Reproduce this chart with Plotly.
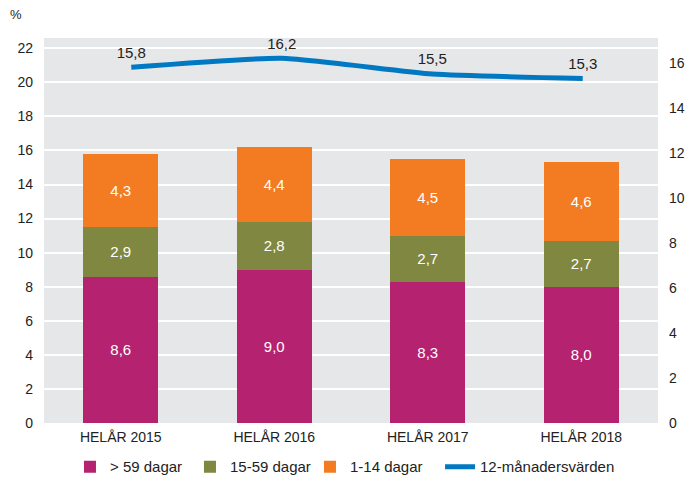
import plotly.graph_objects as go

categories = ["HELÅR 2015", "HELÅR 2016", "HELÅR 2017", "HELÅR 2018"]
over59 = [8.6, 9.0, 8.3, 8.0]
d15_59 = [2.9, 2.8, 2.7, 2.7]
d1_14 = [4.3, 4.4, 4.5, 4.6]
rolling12 = [15.8, 16.2, 15.5, 15.3]

FONT = "Liberation Sans, Arial, sans-serif"

fig = go.Figure()
for name, vals, col in [("> 59 dagar", over59, "#B5226F"),
                        ("15-59 dagar", d15_59, "#7F8741"),
                        ("1-14 dagar", d1_14, "#F37C22")]:
    fig.add_trace(go.Bar(
        x=categories, y=vals, name=name, marker=dict(color=col, line=dict(width=0)),
        texttemplate="%{y:.1f}", textposition="inside", insidetextanchor="middle",
        textfont=dict(color="white", size=15, family=FONT), legend="legend",
    ))

fig.add_trace(go.Scatter(
    x=categories, y=rolling12, name="12-månadersvärden", mode="lines+markers+text",
    line=dict(color="#0078C2", width=5, shape="spline", smoothing=0.5),
    marker=dict(size=8, color="rgba(0,0,0,0)"),
    texttemplate="%{y:.1f}", textposition="top center", cliponaxis=False,
    textfont=dict(color="#222222", size=15, family=FONT),
    xaxis="x2", yaxis="y2", legend="legend2",
))

fig.update_layout(
    width=700, height=479,
    barmode="stack", bargap=0.51,
    separators=", ",
    paper_bgcolor="white", plot_bgcolor="#E6E7E9",
    margin=dict(l=44, r=42, t=38, b=56, autoexpand=False),
    font=dict(family=FONT, size=14, color="#222222"),
    xaxis=dict(showgrid=False, ticks="", tickfont=dict(size=14, color="#222222"),
               ticklabelstandoff=4, automargin=False),
    xaxis2=dict(overlaying="x", type="category", range=[-0.58, 3.5], visible=False, showgrid=False),
    yaxis=dict(range=[0, 22.6], dtick=2, showgrid=True, gridcolor="white", gridwidth=1.5,
               zeroline=False, ticks="", ticklabelstandoff=10, tickfont=dict(size=14), automargin=False),
    yaxis2=dict(range=[0, 17.1], dtick=2, overlaying="y", side="right", showgrid=False,
                zeroline=False, ticks="", ticklabelstandoff=10, tickfont=dict(size=14), automargin=False),
    legend=dict(orientation="h", x=0.0423, xanchor="left", y=-0.114, yanchor="middle",
                traceorder="normal", font=dict(size=15, color="#222222"),
                entrywidth=75, bgcolor="rgba(0,0,0,0)"),
    legend2=dict(orientation="h", x=0.645, xanchor="left", y=-0.114, yanchor="middle",
                 font=dict(size=15, color="#222222"), bgcolor="rgba(0,0,0,0)"),
    annotations=[dict(text="%", xref="paper", yref="paper", x=-0.045, y=1.06,
                      xanchor="center", yanchor="middle", showarrow=False,
                      font=dict(size=13, color="#222222"))],
)

fig.write_html("out.html", post_script="document.body.style.margin='0';",
               config={"displayModeBar": False})
